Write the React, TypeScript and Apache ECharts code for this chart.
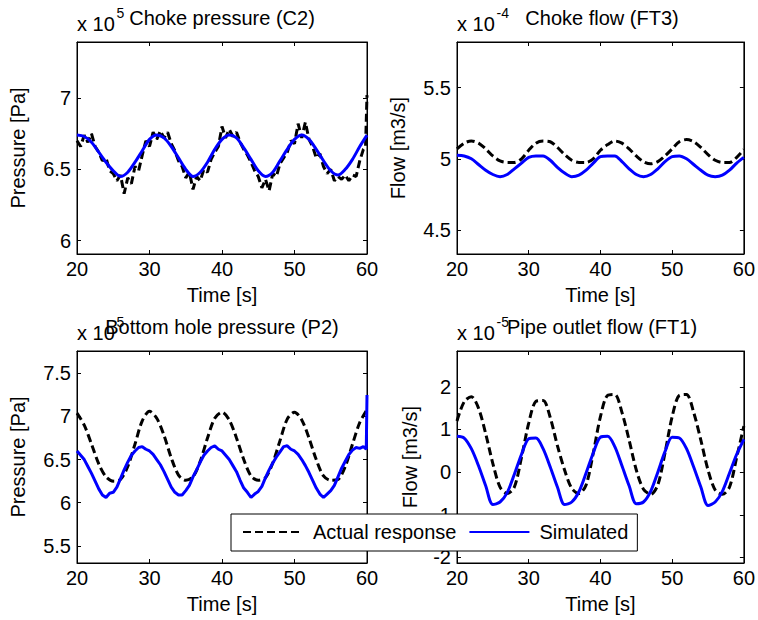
import React, { useEffect, useRef } from "react";
import * as echarts from "echarts";

// ---------- data ----------
const timeSec = [
  20, 21, 22, 23, 24, 25, 26, 27, 28, 29, 30, 31, 32, 33, 34, 35, 36, 37, 38, 39, 40,
  41, 42, 43, 44, 45, 46, 47, 48, 49, 50, 51, 52, 53, 54, 55, 56, 57, 58, 59, 60,
];

const timeHalfA = [
  20, 20.5, 21, 21.5, 22, 22.5, 23, 23.5, 24, 24.5, 25, 25.5, 26, 26.5, 27, 27.5, 28, 28.5, 29, 29.5,
  30, 30.5, 31, 31.5, 32, 32.5, 33, 33.5, 34, 34.5, 35, 35.5, 36, 36.5, 37, 37.5, 38, 38.5, 39, 39.5,
  40, 40.5, 41, 41.5, 42, 42.5, 43, 43.5, 44, 44.5, 45, 45.5, 46, 46.5, 47, 47.5, 48, 48.5, 49, 49.5,
  50, 50.5, 51, 51.5, 52, 52.5, 53, 53.5, 54, 54.5, 55, 55.5, 56, 56.5, 57, 57.5, 58, 58.5, 59, 59.5,
  59.8, 60,
];

const timeHalfB = [
  20, 20.5, 21, 21.5, 22, 22.5, 23, 23.5, 24, 24.5, 25, 25.5, 26, 26.5, 27, 27.5, 28, 28.5, 29, 29.5,
  30, 30.5, 31, 31.5, 32, 32.5, 33, 33.5, 34, 34.5, 35, 35.5, 36, 36.5, 37, 37.5, 38, 38.5, 39, 39.5,
  40, 40.5, 41, 41.5, 42, 42.5, 43, 43.5, 44, 44.5, 45, 45.5, 46, 46.5, 47, 47.5, 48, 48.5, 49, 49.5,
  50, 50.5, 51, 51.5, 52, 52.5, 53, 53.5, 54, 54.5, 55, 55.5, 56, 56.5, 57, 57.5, 58, 58.5, 59, 59.5,
  59.9, 60,
];

// Choke pressure (C2), x 1e5 Pa
const chokePressureActual = [
  6.70, 6.66, 6.74, 6.69, 6.75, 6.66, 6.62, 6.56, 6.58, 6.49, 6.47, 6.42, 6.46, 6.33, 6.44, 6.40, 6.52, 6.49, 6.60, 6.70,
  6.66, 6.76, 6.71, 6.77, 6.72, 6.76, 6.68, 6.63, 6.56, 6.52, 6.44, 6.48, 6.36, 6.45, 6.42, 6.50, 6.48, 6.57, 6.62, 6.66,
  6.80, 6.72, 6.78, 6.73, 6.76, 6.69, 6.64, 6.60, 6.55, 6.49, 6.45, 6.37, 6.43, 6.35, 6.47, 6.45, 6.54, 6.58, 6.62, 6.70,
  6.68, 6.82, 6.72, 6.83, 6.71, 6.66, 6.58, 6.61, 6.52, 6.47, 6.50, 6.42, 6.45, 6.43, 6.46, 6.42, 6.46, 6.45, 6.56, 6.64,
  6.66, 7.02,
];
const chokePressureSim = [
  6.74, 6.73, 6.69, 6.62, 6.55, 6.49, 6.45, 6.48, 6.55, 6.63, 6.71, 6.74, 6.72, 6.66, 6.58, 6.50, 6.45, 6.48, 6.55, 6.64,
  6.71, 6.74, 6.72, 6.65, 6.57, 6.49, 6.45, 6.48, 6.56, 6.64, 6.71, 6.74, 6.71, 6.64, 6.56, 6.49, 6.46, 6.50, 6.57, 6.66,
  6.74,
];

// Choke flow (FT3), x 1e-4 m3/s
const chokeFlowActual = [
  5.07, 5.11, 5.125, 5.11, 5.07, 5.02, 4.985, 4.975, 4.975, 5.0, 5.06, 5.11, 5.125, 5.12, 5.08, 5.03, 4.99, 4.975, 4.975, 5.0,
  5.06, 5.10, 5.125, 5.11, 5.07, 5.02, 4.98, 4.965, 4.98, 5.02, 5.07, 5.12, 5.135, 5.12, 5.08, 5.03, 4.99, 4.975, 4.975, 5.01,
  5.065,
];
const chokeFlowSim = [
  5.025, 5.02, 5.0, 4.96, 4.92, 4.89, 4.875, 4.89, 4.93, 4.97, 5.01, 5.02, 5.02, 4.99, 4.94, 4.90, 4.875, 4.885, 4.92, 4.97,
  5.015, 5.02, 5.02, 4.98, 4.93, 4.89, 4.875, 4.89, 4.93, 4.98, 5.015, 5.02, 5.0, 4.96, 4.92, 4.885, 4.875, 4.885, 4.92, 4.97,
  5.01,
];

// Bottom hole pressure (P2), x 1e5 Pa
const bottomHoleActual = [
  7.04, 6.90, 6.68, 6.45, 6.30, 6.25, 6.27, 6.42, 6.68, 6.95, 7.06, 6.98, 6.78, 6.52, 6.32, 6.26, 6.30, 6.48, 6.75, 6.98,
  7.05, 6.96, 6.75, 6.50, 6.31, 6.26, 6.29, 6.46, 6.72, 6.97, 7.05, 6.96, 6.75, 6.50, 6.31, 6.26, 6.27, 6.42, 6.68, 6.93,
  7.08,
];
const bottomHoleSim = [
  6.60, 6.55, 6.50, 6.42, 6.34, 6.25, 6.16, 6.09, 6.06, 6.11, 6.12, 6.18, 6.28, 6.38, 6.47, 6.55, 6.60, 6.64, 6.65, 6.62,
  6.60, 6.56, 6.50, 6.44, 6.36, 6.27, 6.18, 6.12, 6.09, 6.09, 6.14, 6.20, 6.30, 6.38, 6.47, 6.55, 6.60, 6.64, 6.66, 6.62,
  6.60, 6.55, 6.50, 6.43, 6.36, 6.26, 6.17, 6.12, 6.06, 6.10, 6.13, 6.19, 6.29, 6.38, 6.46, 6.53, 6.59, 6.65, 6.66, 6.62,
  6.60, 6.56, 6.50, 6.43, 6.35, 6.26, 6.17, 6.10, 6.06, 6.10, 6.14, 6.20, 6.30, 6.40, 6.48, 6.56, 6.61, 6.64, 6.63, 6.65,
  6.62, 7.25,
];

// Pipe outlet flow (FT1), x 1e-5 m3/s
const pipeOutletActual = [
  1.20, 1.65, 1.77, 1.50, 0.90, 0.20, -0.35, -0.50, -0.35, 0.35, 1.15, 1.66, 1.68, 1.28, 0.62, 0.05, -0.38, -0.50, -0.30, 0.45,
  1.30, 1.80, 1.82, 1.40, 0.75, 0.05, -0.40, -0.52, -0.30, 0.45, 1.30, 1.80, 1.82, 1.40, 0.75, 0.05, -0.42, -0.52, -0.35, 0.35,
  1.08,
];
const pipeOutletSim = [
  0.84, 0.80, 0.55, 0.15, -0.32, -0.76, -0.70, -0.48, -0.05, 0.42, 0.78, 0.80, 0.55, 0.12, -0.35, -0.76, -0.70, -0.46, -0.02, 0.45,
  0.82, 0.84, 0.60, 0.15, -0.32, -0.74, -0.70, -0.45, 0.0, 0.48, 0.82, 0.80, 0.55, 0.12, -0.35, -0.78, -0.70, -0.45, -0.02, 0.42,
  0.77,
];

const xTicks = [20, 30, 40, 50, 60];
const yTicksChokePressure = [6, 6.5, 7];
const yTicksChokeFlow = [4.5, 5, 5.5];
const yTicksBottomHole = [5.5, 6, 6.5, 7, 7.5];
const yTicksPipeOutlet = [-2, -1, 0, 1, 2];

const titles = ["Choke pressure (C2)", "Choke flow (FT3)", "Bottom hole pressure (P2)", "Pipe outlet flow (FT1)"];
const exponents = ["5", "-4", "5", "-5"];
const yNames = ["Pressure [Pa]", "Flow [m3/s]", "Pressure [Pa]", "Flow [m3/s]"];
const seriesNames = ["Actual response", "Simulated"];

// ---------- layout ----------
const FONT = '"Liberation Sans", Arial, Helvetica, sans-serif';
const BOX_W = 290;
const BOX_H = 212;

const panels = [
  {
    left: 77, top: 42, yMin: 5.907, yMax: 7.392, yTicks: yTicksChokePressure, nameGap: 49,
    actual: { t: timeHalfA, v: chokePressureActual, smooth: false },
    sim: { t: timeSec, v: chokePressureSim, smooth: 0.3 },
  },
  {
    left: 457, top: 42, yMin: 4.332, yMax: 5.82, yTicks: yTicksChokeFlow, nameGap: 49,
    actual: { t: timeSec, v: chokeFlowActual, smooth: 0.3 },
    sim: { t: timeSec, v: chokeFlowSim, smooth: 0.3 },
  },
  {
    left: 77, top: 351, yMin: 5.3, yMax: 7.76, yTicks: yTicksBottomHole, nameGap: 49,
    actual: { t: timeSec, v: bottomHoleActual, smooth: 0.3 },
    sim: { t: timeHalfB, v: bottomHoleSim, smooth: false },
  },
  {
    left: 457, top: 351, yMin: -2.13, yMax: 2.84, yTicks: yTicksPipeOutlet, nameGap: 37,
    actual: { t: timeSec, v: pipeOutletActual, smooth: 0.3 },
    sim: { t: timeSec, v: pipeOutletSim, smooth: 0.3 },
  },
];

const pairs = (t: number[], v: number[]) => t.map((x, i) => [x, v[i]]);

function buildOption() {
  const grid: any[] = [];
  const xAxis: any[] = [];
  const yAxis: any[] = [];
  const series: any[] = [];
  const graphic: any[] = [];

  panels.forEach((p, i) => {
    grid.push({
      left: p.left, top: p.top, width: BOX_W, height: BOX_H,
      show: true, borderColor: "#000", borderWidth: 1, backgroundColor: "#fff",
      containLabel: false,
    });
    const tickStyle = { show: true, inside: true, length: 4, lineStyle: { color: "#000", width: 1 } };
    xAxis.push({
      gridIndex: i, type: "value", min: 20, max: 60, interval: 10, position: "bottom",
      axisLine: { show: true, onZero: false, lineStyle: { color: "#000", width: 1 } },
      axisTick: { ...tickStyle, customValues: xTicks },
      axisLabel: { color: "#000", fontSize: 20, fontFamily: FONT, margin: 5, customValues: xTicks },
      splitLine: { show: false },
      name: "Time [s]", nameLocation: "middle", nameGap: 31,
      nameTextStyle: { color: "#000", fontSize: 20, fontFamily: FONT },
    });
    xAxis.push({
      gridIndex: i, type: "value", min: 20, max: 60, interval: 10, position: "top",
      axisLine: { show: true, onZero: false, lineStyle: { color: "#000", width: 1 } },
      axisTick: { ...tickStyle, customValues: xTicks },
      axisLabel: { show: false },
      splitLine: { show: false },
    });
    yAxis.push({
      gridIndex: i, type: "value", min: p.yMin, max: p.yMax, position: "left",
      axisLine: { show: true, onZero: false, lineStyle: { color: "#000", width: 1 } },
      axisTick: { ...tickStyle, customValues: p.yTicks },
      axisLabel: { color: "#000", fontSize: 20, fontFamily: FONT, margin: 6, customValues: p.yTicks },
      splitLine: { show: false },
      name: yNames[i], nameLocation: "middle", nameRotate: 90, nameGap: p.nameGap,
      nameTextStyle: { color: "#000", fontSize: 20, fontFamily: FONT },
    });
    yAxis.push({
      gridIndex: i, type: "value", min: p.yMin, max: p.yMax, position: "right",
      axisLine: { show: true, onZero: false, lineStyle: { color: "#000", width: 1 } },
      axisTick: { ...tickStyle, customValues: p.yTicks },
      axisLabel: { show: false },
      splitLine: { show: false },
    });

    series.push({
      name: seriesNames[0], type: "line", xAxisIndex: 2 * i, yAxisIndex: 2 * i,
      data: pairs(p.actual.t, p.actual.v), symbol: "none", showSymbol: false, smooth: p.actual.smooth,
      lineStyle: { color: "#000", width: 3, type: [8, 4] }, itemStyle: { color: "#000" },
      clip: true, z: 2,
    });
    series.push({
      name: seriesNames[1], type: "line", xAxisIndex: 2 * i, yAxisIndex: 2 * i,
      data: pairs(p.sim.t, p.sim.v), symbol: "none", showSymbol: false, smooth: p.sim.smooth,
      lineStyle: { color: "#0000ff", width: 3, type: "solid" }, itemStyle: { color: "#0000ff" },
      clip: true, z: 3,
    });

    const cx = p.left + BOX_W / 2;
    graphic.push({
      type: "text", x: p.left, y: p.top - 18.5, z: 5,
      style: { text: "x 10", fontSize: 20, fontFamily: FONT, fill: "#000", textVerticalAlign: "middle", textAlign: "left" },
    });
    graphic.push({
      type: "text", x: p.left + 39.5, y: p.top - 29, z: 5,
      style: { text: exponents[i], fontSize: 14, fontFamily: FONT, fill: "#000", textVerticalAlign: "middle", textAlign: "left" },
    });
    graphic.push({
      type: "text", x: cx, y: p.top - 24.5, z: 6,
      style: { text: titles[i], fontSize: 20, fontFamily: FONT, fill: "#000", textVerticalAlign: "middle", textAlign: "center" },
    });
  });

  return {
    animation: false,
    backgroundColor: "#fff",
    textStyle: { fontFamily: FONT },
    grid, xAxis, yAxis, series, graphic,
    legend: {
      show: true, data: seriesNames, left: 231, top: 514, orient: "horizontal",
      itemWidth: 60, itemHeight: 14, itemGap: 12, selectedMode: false,
      padding: [8, 9, 9, 11],
      backgroundColor: "#fff", borderColor: "#000", borderWidth: 1, borderRadius: 0,
      itemStyle: { opacity: 0 },
      textStyle: { color: "#000", fontSize: 20, fontFamily: FONT, padding: [0, 0, 0, 5] },
      z: 20,
    },
  };
}

export default function App() {
  const ref = useRef<HTMLDivElement>(null);
  useEffect(() => {
    if (!ref.current) return;
    const chart = echarts.init(ref.current, undefined, { renderer: "svg" });
    chart.setOption(buildOption() as any);
    return () => chart.dispose();
  }, []);
  return (
    <div
      ref={ref}
      style={{ position: "fixed", left: 0, top: 0, width: 758, height: 620, background: "#fff" }}
    />
  );
}
